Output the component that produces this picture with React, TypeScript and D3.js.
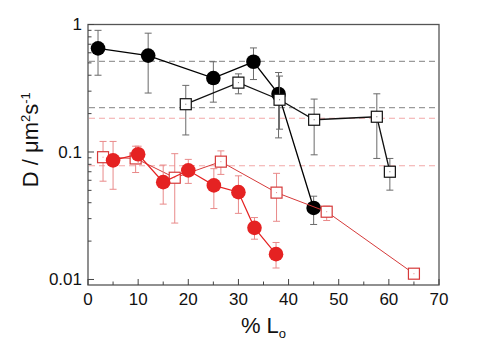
import React from "react";
import * as d3 from "d3";

const W = 480, H = 343;
const M = { left: 88, right: 41, top: 24.5, bottom: 58 };

type P = { x: number; y: number; lo: number; hi: number };
const mk = (xs: number[], ys: number[], lo: number[], hi: number[]): P[] =>
  xs.map((x, i) => ({ x, y: ys[i], lo: lo[i], hi: hi[i] }));

// Black filled circles
const bcX = [2, 12, 25, 33, 38, 45];
const bcY = [0.65, 0.57, 0.38, 0.51, 0.285, 0.0364];
const bcLo = [0.40, 0.29, 0.246, 0.37, 0.129, 0.027];
const bcHi = [0.90, 0.855, 0.51, 0.655, 0.42, 0.045];

// Black open squares
const bsX = [19.5, 30, 38.2, 45.1, 57.6, 60.2];
const bsY = [0.237, 0.35, 0.257, 0.179, 0.189, 0.07];
const bsLo = [0.136, 0.286, 0.151, 0.095, 0.089, 0.0502];
const bsHi = [0.333, 0.41, 0.394, 0.26, 0.286, 0.089];

// Red filled circles
const rcX = [5, 10, 15, 20, 25.1, 30, 33.2, 37.5];
const rcY = [0.086, 0.096, 0.058, 0.0718, 0.0547, 0.0484, 0.0254, 0.0158];
const rcLo = [0.051, 0.08, 0.039, 0.0567, 0.036, 0.033, 0.0207, 0.0123];
const rcHi = [0.121, 0.111, 0.079, 0.0875, 0.074, 0.065, 0.0306, 0.0195];

// Red open squares
const rsX = [3, 9.5, 17.3, 26.5, 37.6, 47.6, 65];
const rsY = [0.091, 0.089, 0.0628, 0.084, 0.048, 0.034, 0.0111];
const rsLo = [0.059, 0.069, 0.0277, 0.0667, 0.0286, 0.029, 0.0111];
const rsHi = [0.121, 0.111, 0.097, 0.102, 0.068, 0.0376, 0.0111];

const grayRefs = [0.514, 0.223];
const pinkRefs = [0.184, 0.078];

const xTicks = [0, 10, 20, 30, 40, 50, 60, 70];
const yTickLabels = ["1", "0.1", "0.01"];
const yTicks = [1, 0.1, 0.01];

const FONT = "'Liberation Sans', Arial, sans-serif";

export default function App() {
  const x = d3.scaleLinear().domain([0, 70]).range([M.left, W - M.right]);
  const y = d3.scaleLog().domain([0.00905, 1.0]).range([H - M.bottom, M.top]);
  const x0 = M.left, x1 = W - M.right, y0 = H - M.bottom, y1 = M.top;

  const minorY: number[] = [];
  [0.01, 0.1].forEach((d) => {
    for (let k = 2; k <= 9; k++) minorY.push(d * k);
  });
  const minorX = d3.range(5, 70, 10);

  const line = d3.line<P>().x((d) => x(d.x)).y((d) => y(d.y));

  const series = [
    { data: mk(bcX, bcY, bcLo, bcHi), color: "#000", err: "#6a6a6a", shape: "circle", fill: "#000", lw: 1.3 },
    { data: mk(bsX, bsY, bsLo, bsHi), color: "#111", err: "#6a6a6a", shape: "square", fill: "#fff", lw: 1.3 },
    { data: mk(rsX, rsY, rsLo, rsHi), color: "#d63a3a", err: "#e98a8a", shape: "square", fill: "#fff", lw: 1 },
    { data: mk(rcX, rcY, rcLo, rcHi), color: "#e52222", err: "#e98a8a", shape: "circle", fill: "#e52222", lw: 1.2 },
  ];

  return (
    <svg width={W} height={H} style={{ display: "block", position: "absolute", left: 0, top: 0, background: "#fff" }}>
      {/* reference dashed lines */}
      {grayRefs.map((v, i) => (
        <line key={"g" + i} x1={x0 + 1} x2={x1 - 1} y1={y(v)} y2={y(v)} stroke="#9a9a9a" strokeWidth={1.3} strokeDasharray="6,4" />
      ))}
      {pinkRefs.map((v, i) => (
        <line key={"p" + i} x1={x0 + 1} x2={x1 - 1} y1={y(v)} y2={y(v)} stroke="#f2a8a8" strokeWidth={1.1} strokeDasharray="6,4" />
      ))}

      {series.map((s, si) => (
        <g key={si}>
          {/* error bars */}
          {s.data.map((d, i) =>
            d.hi > d.lo ? (
              <g key={i} stroke={s.err} strokeWidth={1}>
                <line x1={x(d.x)} x2={x(d.x)} y1={y(d.lo)} y2={y(d.hi)} />
                <line x1={x(d.x) - 3.5} x2={x(d.x) + 3.5} y1={y(d.lo)} y2={y(d.lo)} />
                <line x1={x(d.x) - 3.5} x2={x(d.x) + 3.5} y1={y(d.hi)} y2={y(d.hi)} />
              </g>
            ) : null
          )}
          <path d={line(s.data) || ""} fill="none" stroke={s.color} strokeWidth={s.lw} />
          {s.data.map((d, i) =>
            s.shape === "circle" ? (
              <circle key={"m" + i} cx={x(d.x)} cy={y(d.y)} r={7.3} fill={s.fill} />
            ) : (
              <g key={"m" + i}>
                <rect x={x(d.x) - 5.5} y={y(d.y) - 5.5} width={11} height={11} fill="#fff" stroke={s.color} strokeWidth={1.2} />
                <rect x={x(d.x) - 0.5} y={y(d.y) - 0.5} width={1} height={1} fill={s.color} opacity={0.6} />
              </g>
            )
          )}
        </g>
      ))}

      {/* frame */}
      <rect x={x0} y={y1} width={x1 - x0} height={y0 - y1} fill="none" stroke="#555" strokeWidth={1.3} />

      {/* y ticks */}
      {yTicks.map((v, i) => (
        <g key={"yt" + i}>
          <line x1={x0} x2={x0 + 6} y1={y(v)} y2={y(v)} stroke="#444" strokeWidth={1} />
          <text x={x0 - 6} y={y(v)} dy="0.35em" textAnchor="end" fontFamily={FONT} fontSize={17} fill="#111">
            {yTickLabels[i]}
          </text>
        </g>
      ))}
      {minorY.map((v, i) => (
        <line key={"ym" + i} x1={x0} x2={x0 + 3.5} y1={y(v)} y2={y(v)} stroke="#444" strokeWidth={1} />
      ))}

      {/* x ticks */}
      {xTicks.map((v) => (
        <g key={"xt" + v}>
          <line x1={x(v)} x2={x(v)} y1={y0} y2={y0 - 6} stroke="#444" strokeWidth={1} />
          <text x={x(v)} y={y0 + 20} textAnchor="middle" fontFamily={FONT} fontSize={17} fill="#111">
            {v}
          </text>
        </g>
      ))}
      {minorX.map((v) => (
        <line key={"xm" + v} x1={x(v)} x2={x(v)} y1={y0} y2={y0 - 3.5} stroke="#444" strokeWidth={1} />
      ))}

      {/* axis titles */}
      <text x={(x0 + x1) / 2} y={333} textAnchor="middle" fontFamily={FONT} fontSize={22} fill="#111">
        % L
        <tspan fontSize={13} dy={5}>o</tspan>
      </text>
      <text
        transform={`translate(38, ${(y0 + y1) / 2 - 15}) rotate(-90)`}
        textAnchor="middle"
        fontFamily={FONT}
        fontSize={22}
        fill="#111"
      >
        D / μm
        <tspan fontSize={13} dy={-8}>2</tspan>
        <tspan dy={8}>s</tspan>
        <tspan fontSize={13} dy={-8}>-1</tspan>
      </text>
    </svg>
  );
}
